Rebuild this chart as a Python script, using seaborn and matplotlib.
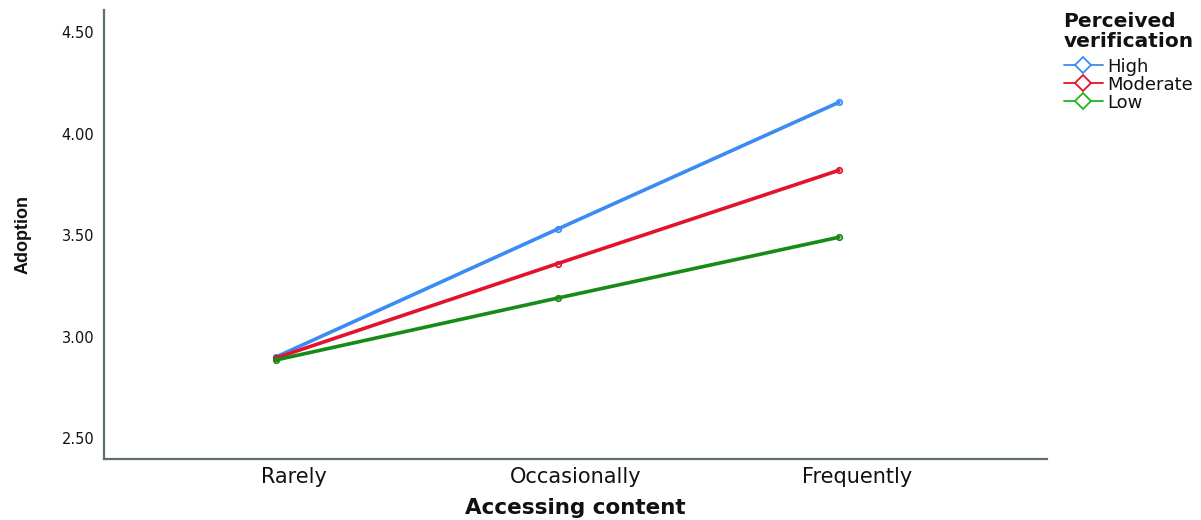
import numpy as np
import pandas as pd
import seaborn as sns
import matplotlib.pyplot as plt
import matplotlib.transforms as mtransforms
from matplotlib.lines import Line2D

# data
categories = ['Rarely', 'Occasionally', 'Frequently']
groups = ['High', 'Moderate', 'Low']
high = [2.90, 3.53, 4.155]
moderate = [2.895, 3.36, 3.82]
low = [2.885, 3.19, 3.49]
y_ticks = [2.50, 3.00, 3.50, 4.00, 4.50]

colors = {'High': '#3a8cf2', 'Moderate': '#e3122e', 'Low': '#178a17'}
legend_colors = {'High': '#3a8cf2', 'Moderate': '#e3122e', 'Low': '#22b422'}

df = pd.DataFrame({
    'Accessing content': categories * 3,
    'Adoption': high + moderate + low,
    'Perceived verification': [g for g in groups for _ in categories],
})
df['x'] = df['Accessing content'].map({c: i for i, c in enumerate(categories)})

sns.set_style('white')
plt.rcParams['font.family'] = ['DejaVu Sans']
plt.rcParams['text.color'] = '#111111'
plt.rcParams['axes.labelcolor'] = '#111111'

fig = plt.figure(figsize=(12.01, 5.2), dpi=100)
ax = fig.add_axes([0.0866, 0.1173, 0.7852, 0.8635])

sns.lineplot(
    data=df, x='x', y='Adoption', hue='Perceived verification',
    hue_order=groups, palette=colors, linewidth=2.6,
    marker='o', markersize=4, legend=False, ax=ax,
)
for line in ax.lines:
    line.set_markerfacecolor('none')
    line.set_markeredgecolor(line.get_color())
    line.set_markeredgewidth(1.2)

ax.set_xlim(-0.611, 2.739)
ax.set_ylim(2.397, 4.61)
ax.set_xticks(range(len(categories)))
ax.set_xticklabels(categories, fontsize=15)
ax.set_yticks(y_ticks)
ax.set_yticklabels([f'{t:.2f}' for t in y_ticks], fontsize=10.5)
ax.tick_params(axis='both', length=0, colors='#111111')
ax.tick_params(axis='x', pad=6)
ax.tick_params(axis='y', pad=7)

# the reference's category labels sit a little right of the points
shift = mtransforms.ScaledTranslation(0.18, 0, fig.dpi_scale_trans)
for lbl in ax.get_xticklabels():
    lbl.set_transform(lbl.get_transform() + shift)

for side in ['top', 'right']:
    ax.spines[side].set_visible(False)
for side in ['left', 'bottom']:
    ax.spines[side].set_color('#5e6f70')
    ax.spines[side].set_linewidth(1.6)

ax.set_xlabel('Accessing content', fontsize=15.5, fontweight='bold', labelpad=8)
ax.set_ylabel('Adoption', fontsize=13, fontweight='bold',
              family='Liberation Sans')
ax.yaxis.set_label_coords(-0.077, 0.5)

handles = [Line2D([0], [0], color=legend_colors[g], linewidth=1.3, marker='D',
                  markersize=8, markerfacecolor='white', markeredgewidth=1.3)
           for g in groups]
leg = fig.legend(handles, groups, title='Perceived\nverification',
                 loc='upper left', bbox_to_anchor=(0.872, 1.008),
                 frameon=False, fontsize=13, handlelength=2.2,
                 handletextpad=0.2, labelspacing=0.0,
                 title_fontproperties={'weight': 'bold', 'size': 14.5})
leg._legend_box.align = 'left'
leg._legend_box.sep = 5
leg.get_title().set_linespacing(1.05)

fig.savefig('out.png', dpi=100)
